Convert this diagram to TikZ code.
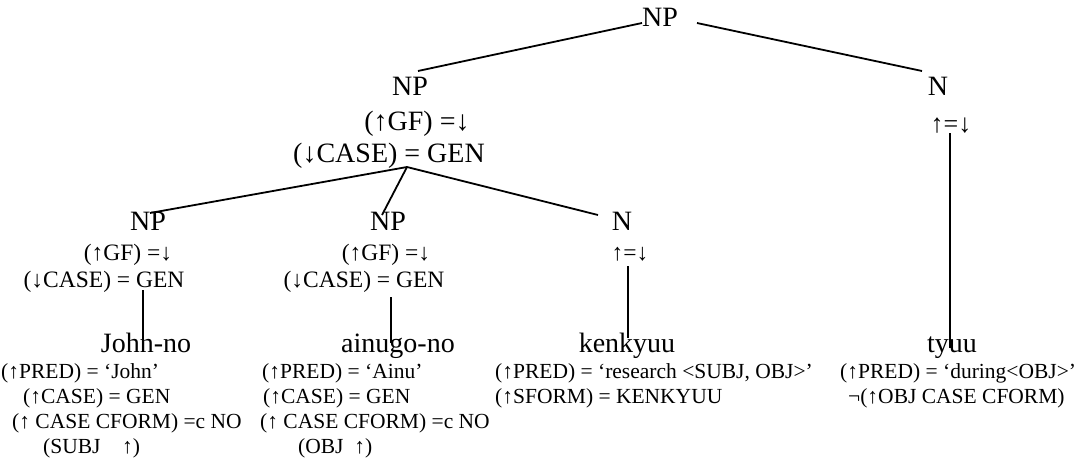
\documentclass[tikz,border=0pt]{standalone}
\usepackage{fontspec}
\setmainfont{Liberation Serif}
\begin{document}
\begin{tikzpicture}[x=1pt,y=-1pt,
  big/.style={font=\fontsize{28}{30}\selectfont, inner sep=0pt, anchor=base},
  annl/.style={font=\fontsize{28}{30}\selectfont, inner sep=0pt, anchor=base},
  annm/.style={font=\fontsize{23.5}{25}\selectfont, inner sep=0pt, anchor=base},
  annr/.style={font=\fontsize{26}{28}\selectfont, inner sep=0pt, anchor=base},
  anns/.style={font=\fontsize{21.5}{23}\selectfont, inner sep=0pt, anchor=base west},
  branch/.style={line width=1.8pt}]
\useasboundingbox (0,0) rectangle (1075,459);

% top
\node[big] (np0) at (660,26) {NP};

% level 2
\node[big]  (np1)  at (410,95)  {NP};
\node[annl] (np1a) at (417,130) {(↑GF) =↓};
\node[annl] (np1b) at (389,162) {(↓CASE) = GEN};

\node[big]  (n1)   at (938,95)  {N};
\node[annr] (n1a)  at (951,132) {↑=↓};

% level 3
\node[big]  (np2)  at (148,230) {NP};
\node[annm] (np2a) at (128,260) {(↑GF) =↓};
\node[annm] (np2b) at (104,287) {(↓CASE) = GEN};

\node[big]  (np3)  at (388,230) {NP};
\node[annm] (np3a) at (386,260) {(↑GF) =↓};
\node[annm] (np3b) at (364,287) {(↓CASE) = GEN};

\node[big]  (n2)   at (622,230) {N};
\node[annm] (n2a)  at (630,260) {↑=↓};

% words
\node[big] (w1) at (146,352) {John-no};
\node[anns] (w1a) at (1,378)  {(↑PRED) = ‘John’};
\node[anns] (w1b) at (23,403) {(↑CASE) = GEN};
\node[anns] (w1c) at (12,428) {(↑ CASE CFORM) =c NO};
\node[anns] (w1d) at (43,453) {(SUBJ\quad↑)};

\node[big] (w2) at (398,352) {ainugo-no};
\node[anns] (w2a) at (262,378) {(↑PRED) = ‘Ainu’};
\node[anns] (w2b) at (263,403) {(↑CASE) = GEN};
\node[anns] (w2c) at (260,428) {(↑ CASE CFORM) =c NO};
\node[anns] (w2d) at (298,453) {(OBJ\enspace↑)};

\node[big] (w3) at (627,352) {kenkyuu};
\node[anns] (w3a) at (495,378) {(↑PRED) = ‘research <SUBJ, OBJ>’};
\node[anns] (w3b) at (495,403) {(↑SFORM) = KENKYUU};

\node[big] (w4) at (952,352) {tyuu};
\node[anns] (w4a) at (840,378) {(↑PRED) = ‘during<OBJ>’};
\node[anns] (w4b) at (848,403) {¬(↑OBJ CASE CFORM)};

% connector end points
\coordinate (np0l) at (642,23);
\coordinate (np0r) at (697,23);
\coordinate (np1t) at (418,71);
\coordinate (n1t)  at (922,71);
\coordinate (np1d) at (407,167);
\coordinate (np2t) at (150,213);
\coordinate (np3t) at (382,215);
\coordinate (n2t)  at (598,215);
\coordinate (np2d) at (143,290);
\coordinate (w1t)  at (143,352);
\coordinate (np3d) at (391,297);
\coordinate (w2t)  at (391,343);
\coordinate (n2d)  at (628,266);
\coordinate (w3t)  at (628,338);
\coordinate (n1d)  at (950,133);
\coordinate (w4t)  at (950,348);

\draw[branch] (np0l) -- (np1t);
\draw[branch] (np0r) -- (n1t);
\draw[branch] (np1d) -- (np2t);
\draw[branch] (np1d) -- (np3t);
\draw[branch] (np1d) -- (n2t);
\draw[branch] (np2d) -- (w1t);
\draw[branch] (np3d) -- (w2t);
\draw[branch] (n2d) -- (w3t);
\draw[branch] (n1d) -- (w4t);
\end{tikzpicture}
\end{document}
